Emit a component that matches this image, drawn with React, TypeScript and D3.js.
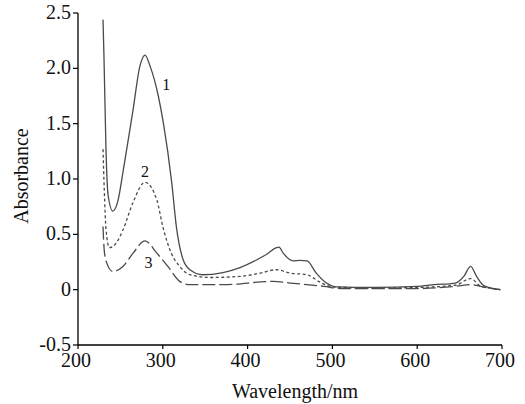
import React from 'react'
import * as d3 from 'd3'

// wavelength (nm) / absorbance
const wl1 = [229.5, 230.7, 233, 235.4, 241, 247, 253, 265, 273, 279, 285, 294.7, 300.6, 310.5, 316, 324, 332, 347, 371, 391, 411, 422.5, 434, 437, 442, 454, 462, 470, 481, 493, 505, 550, 600, 620, 645, 655, 663, 670, 678, 690, 698]
const abs1 = [2.44, 2.08, 1.27, 0.86, 0.71, 0.8, 1.06, 1.63, 2.02, 2.12, 2.02, 1.75, 1.51, 0.97, 0.57, 0.27, 0.18, 0.135, 0.155, 0.2, 0.27, 0.32, 0.38, 0.385, 0.33, 0.26, 0.265, 0.26, 0.15, 0.06, 0.025, 0.02, 0.03, 0.045, 0.06, 0.12, 0.21, 0.12, 0.04, 0.01, 0.0]

const wl2 = [229.5, 231, 233, 237, 245, 253, 265, 279, 293, 300, 310, 320, 332, 356, 391, 415, 434, 450, 470, 485, 500, 550, 600, 645, 663, 675, 690, 698]
const abs2 = [1.27, 0.9, 0.55, 0.38, 0.42, 0.54, 0.79, 0.97, 0.81, 0.57, 0.33, 0.21, 0.135, 0.11, 0.12, 0.15, 0.18, 0.15, 0.135, 0.07, 0.025, 0.015, 0.02, 0.04, 0.1, 0.03, 0.01, 0.0]

const wl3 = [229.5, 231, 234, 241, 253, 265, 279, 293, 306, 320, 332, 371, 430, 450, 490, 510, 600, 645, 663, 680, 698]
const abs3 = [0.57, 0.35, 0.24, 0.165, 0.21, 0.33, 0.44, 0.33, 0.21, 0.075, 0.045, 0.045, 0.075, 0.06, 0.03, 0.01, 0.01, 0.03, 0.045, 0.02, 0.0]

const xTicks = [200, 300, 400, 500, 600, 700]
const yTicks = [-0.5, 0, 0.5, 1.0, 1.5, 2.0, 2.5]
const yTickLabels = ['-0.5', '0', '0.5', '1.0', '1.5', '2.0', '2.5']

const series = [
    { name: '1', wl: wl1, abs: abs1, dash: 'none', labelAt: [304, 1.85] },
    { name: '2', wl: wl2, abs: abs2, dash: '3,2.5', labelAt: [279, 1.07] },
    { name: '3', wl: wl3, abs: abs3, dash: '13,4', labelAt: [283, 0.25] },
]

export default function App() {
    const width = 525, height = 404
    const x = d3.scaleLinear().domain([200, 700]).range([78, 502])
    const y = d3.scaleLinear().domain([-0.5, 2.5]).range([345, 13])

    const line = d3.line<[number, number]>()
        .x(d => x(d[0]))
        .y(d => y(d[1]))
        .curve(d3.curveMonotoneX)

    const font = "'Liberation Serif', 'Times New Roman', serif"

    return (
        <svg width={width} height={height} style={{ position: 'absolute', left: 0, top: 0, background: '#fff', fontFamily: font }}>
            {/* curves */}
            {series.map(s => {
                const pts = s.wl.map((w, i) => [w, s.abs[i]] as [number, number])
                return <path key={s.name} d={line(pts) || ''} fill="none" stroke="#4a4a4a"
                             strokeWidth={1.3} strokeDasharray={s.dash} />
            })}
            {series.map(s => (
                <text key={'l' + s.name} x={x(s.labelAt[0])} y={y(s.labelAt[1])} fontSize={16}
                      textAnchor="middle" dominantBaseline="central" fill="#111">{s.name}</text>
            ))}

            {/* y axis */}
            <line x1={x(200)} x2={x(200)} y1={y(2.5)} y2={y(-0.5)} stroke="#000" strokeWidth={1.3} />
            {yTicks.map((t, i) => (
                <g key={'y' + t}>
                    <line x1={x(200) - 5} x2={x(200)} y1={y(t)} y2={y(t)} stroke="#000" strokeWidth={1.2} />
                    <text x={x(200) - 7} y={y(t) - 1} fontSize={20} textAnchor="end" dominantBaseline="central" fill="#111">{yTickLabels[i]}</text>
                </g>
            ))}

            {/* x axis */}
            <line x1={x(200)} x2={x(700)} y1={y(-0.5)} y2={y(-0.5)} stroke="#000" strokeWidth={1.3} />
            {xTicks.map(t => (
                <g key={'x' + t}>
                    <line x1={x(t)} x2={x(t)} y1={y(-0.5)} y2={y(-0.5) + 4} stroke="#000" strokeWidth={1.2} />
                    <text x={x(t) - 2} y={367} fontSize={20} textAnchor="middle" fill="#111">{t}</text>
                </g>
            ))}

            <text x={295} y={398} fontSize={20} textAnchor="middle" fill="#111">Wavelength/nm</text>
            <text transform="translate(28,176) rotate(-90)" fontSize={20} textAnchor="middle" fill="#111">Absorbance</text>
        </svg>
    )
}
